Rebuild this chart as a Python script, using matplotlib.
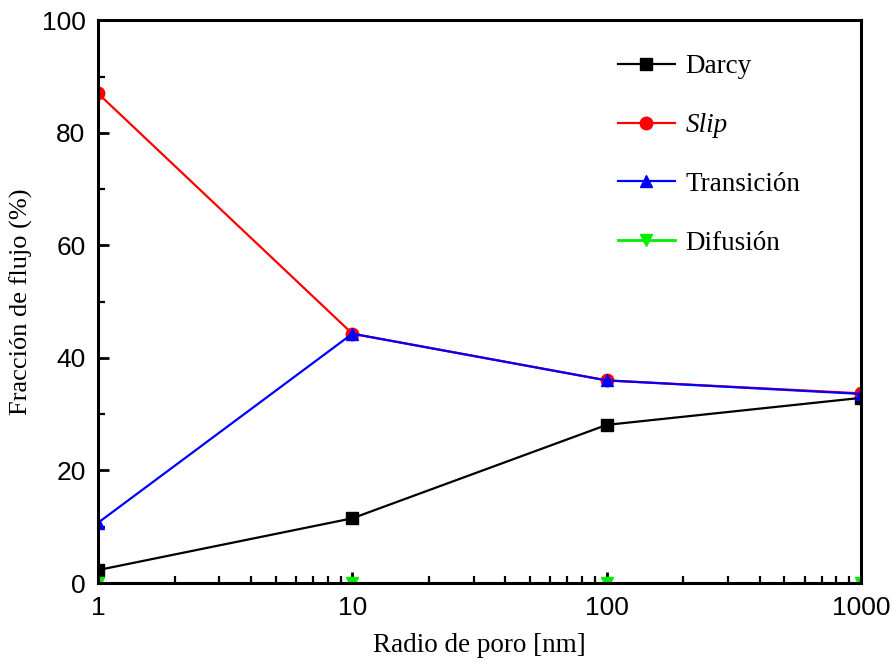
import matplotlib
matplotlib.use("Agg")
import matplotlib.pyplot as plt
from matplotlib.ticker import LogLocator, FixedLocator, NullFormatter

radius = [1, 10, 100, 1000]
darcy = [2.3, 11.5, 28.1, 32.9]
slip = [87.0, 44.3, 36.0, 33.7]
transicion = [10.7, 44.3, 36.0, 33.6]
difusion = [0.0, 0.0, 0.0, 0.0]
x_ticks = [1, 10, 100, 1000]
y_ticks = [0, 20, 40, 60, 80, 100]

fig = plt.figure(figsize=(8.96, 6.66), dpi=100)
ax = fig.add_axes([0.1094, 0.1246, 0.8516, 0.845])

ax.plot(radius, darcy, color="black", marker="s", ms=8, lw=1.6, label="Darcy")
ax.plot(radius, slip, color="red", marker="o", ms=9, lw=1.6, label="Slip")
ax.plot(radius, transicion, color="blue", marker="^", ms=9, lw=1.6, label="Transición")
ax.plot(radius, difusion, color="#00ee00", marker="v", ms=9, lw=2.0, label="Difusión")

ax.set_xscale("log")
ax.set_xlim(1, 1000)
ax.set_ylim(0, 100)
ax.set_xticks(x_ticks)
ax.set_xticklabels([str(v) for v in x_ticks])
ax.xaxis.set_minor_locator(LogLocator(base=10, subs=range(2, 10)))
ax.xaxis.set_minor_formatter(NullFormatter())
ax.set_yticks(y_ticks)
ax.yaxis.set_minor_locator(FixedLocator([10, 30, 50, 70, 90]))

for s in ax.spines.values():
    s.set_linewidth(2.2)
ax.tick_params(which="major", direction="in", length=8, width=2, labelsize=19,
               top=False, right=False, pad=9)
ax.tick_params(which="minor", direction="in", length=5, width=1.6, top=False, right=False)
for lab in ax.get_xticklabels() + ax.get_yticklabels():
    lab.set_fontfamily("Liberation Sans")

ax.set_xlabel("Radio de poro [nm]", fontsize=19.5, fontfamily="Liberation Serif", labelpad=10)
ax.set_ylabel("Fracción de flujo (%)", fontsize=19, fontfamily="Liberation Serif", labelpad=6)

leg = ax.legend(loc="upper left", bbox_to_anchor=(0.667, 0.959), frameon=False,
                prop={"family": "Liberation Serif", "size": 19.5}, labelspacing=1.25,
                handlelength=2.1, handletextpad=0.4, borderaxespad=0)
for t in leg.get_texts():
    if t.get_text() == "Slip":
        t.set_fontstyle("italic")

fig.savefig("out.png", dpi=100)
